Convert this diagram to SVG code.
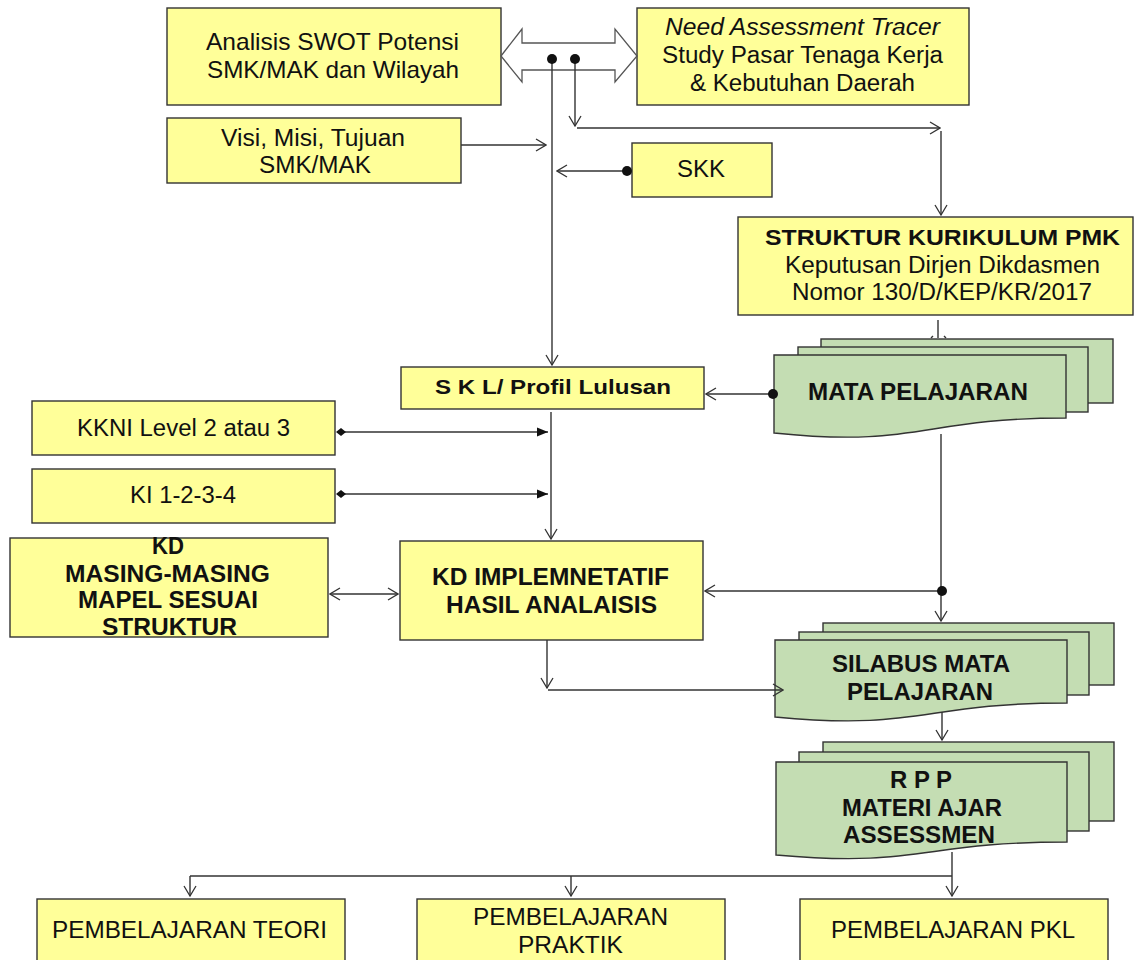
<svg xmlns="http://www.w3.org/2000/svg" width="1135" height="960" viewBox="0 0 1135 960">
<defs>
<style>
.y{fill:#FFFF99;stroke:#333;stroke-width:1.4}
.g{fill:#C4DDB3;stroke:#333;stroke-width:1.4}
.t{font-family:"Liberation Sans",Arial,sans-serif;font-size:23.5px;fill:#111}
.b{font-weight:bold;font-size:23px}
.i{font-style:italic}
.c{fill:none;stroke:#333;stroke-width:1.4}
</style>
<marker id="open" viewBox="0 0 12 14" refX="11" refY="7" markerWidth="12" markerHeight="14" orient="auto-start-reverse" markerUnits="userSpaceOnUse"><path d="M1,1 L11,7 L1,13" fill="none" stroke="#333" stroke-width="1.3"/></marker>
<marker id="tri" viewBox="0 0 12 10" refX="11" refY="5" markerWidth="12" markerHeight="10" orient="auto" markerUnits="userSpaceOnUse"><path d="M0,0.5 L11,5 L0,9.5 Z" fill="#111"/></marker>
<marker id="dia" viewBox="0 0 10 8" refX="1" refY="4" markerWidth="10" markerHeight="8" orient="auto" markerUnits="userSpaceOnUse"><path d="M0,4 L5,0 L10,4 L5,8 Z" fill="#111"/></marker>
<marker id="dot" viewBox="0 0 12 12" refX="6" refY="6" markerWidth="12" markerHeight="12" orient="auto" markerUnits="userSpaceOnUse"><circle cx="6" cy="6" r="5" fill="#111"/></marker>
</defs>
<rect width="1135" height="960" fill="#fff"/>

<g id="swot">
<rect class="y" x="167" y="8" width="334" height="97"/>
<text class="t" x="206" y="50" textLength="253" lengthAdjust="spacingAndGlyphs" style="font-size:24px">Analisis SWOT Potensi</text>
<text class="t" x="207" y="78" textLength="252" lengthAdjust="spacingAndGlyphs" style="font-size:24px">SMK/MAK dan Wilayah</text>
</g>
<g id="need">
<rect class="y" x="637" y="8" width="332" height="97"/>
<text class="t i" x="665" y="35" textLength="275" lengthAdjust="spacingAndGlyphs">Need Assessment Tracer</text>
<text class="t" x="662" y="63" textLength="281" lengthAdjust="spacingAndGlyphs">Study Pasar Tenaga Kerja</text>
<text class="t" x="690" y="91" textLength="225" lengthAdjust="spacingAndGlyphs">&amp; Kebutuhan Daerah</text>
</g>
<g id="visi">
<rect class="y" x="167" y="118" width="294" height="65"/>
<text class="t" x="221" y="146" textLength="184" lengthAdjust="spacingAndGlyphs">Visi, Misi, Tujuan</text>
<text class="t" x="259" y="173" textLength="112" lengthAdjust="spacingAndGlyphs">SMK/MAK</text>
</g>
<g id="skk">
<rect class="y" x="632" y="143" width="140" height="54"/>
<text class="t" x="677" y="177" textLength="48" lengthAdjust="spacingAndGlyphs">SKK</text>
</g>
<g id="struktur">
<rect class="y" x="738" y="217" width="395" height="98"/>
<text class="t b" x="765" y="245" textLength="355" lengthAdjust="spacingAndGlyphs" style="font-size:22px">STRUKTUR KURIKULUM  PMK</text>
<text class="t" x="785" y="273" textLength="315" lengthAdjust="spacingAndGlyphs">Keputusan Dirjen Dikdasmen</text>
<text class="t" x="792" y="300" textLength="300" lengthAdjust="spacingAndGlyphs">Nomor 130/D/KEP/KR/2017</text>
</g>
<g id="mapel">
<rect class="g" x="821" y="339" width="292" height="64"/>
<rect class="g" x="798" y="347" width="290" height="65"/>
<path class="g" d="M774,355 H1066 V418 C920,418 920,448 774,433 Z"/>
<text class="t b" x="808" y="400" textLength="220" lengthAdjust="spacingAndGlyphs">MATA PELAJARAN</text>
</g>
<g id="skl">
<rect class="y" x="401" y="367" width="303" height="42"/>
<text class="t b" x="435" y="394" textLength="236" lengthAdjust="spacingAndGlyphs" style="font-size:21px">S K L/ Profil Lulusan</text>
</g>
<g id="kkni">
<rect class="y" x="32" y="401" width="303" height="54"/>
<text class="t" x="77" y="436" textLength="213" lengthAdjust="spacingAndGlyphs">KKNI Level 2 atau 3</text>
</g>
<g id="ki">
<rect class="y" x="32" y="469" width="303" height="54"/>
<text class="t" x="130" y="503" textLength="106" lengthAdjust="spacingAndGlyphs">KI 1-2-3-4</text>
</g>
<g id="kdmasing">
<rect class="y" x="10" y="538" width="318" height="99"/>
<text class="t b" x="152" y="554" textLength="32" lengthAdjust="spacingAndGlyphs">KD</text>
<text class="t b" x="65" y="582" textLength="205" lengthAdjust="spacingAndGlyphs">MASING-MASING</text>
<text class="t b" x="78" y="608" textLength="180" lengthAdjust="spacingAndGlyphs">MAPEL SESUAI</text>
<text class="t b" x="102" y="635" textLength="135" lengthAdjust="spacingAndGlyphs">STRUKTUR</text>
</g>
<g id="kdimpl">
<rect class="y" x="400" y="541" width="303" height="99"/>
<text class="t b" x="432" y="585" textLength="237" lengthAdjust="spacingAndGlyphs">KD IMPLEMNETATIF</text>
<text class="t b" x="446" y="613" textLength="211" lengthAdjust="spacingAndGlyphs">HASIL ANALAISIS</text>
</g>
<g id="silabus">
<rect class="g" x="823" y="623" width="291" height="62"/>
<rect class="g" x="799" y="632" width="290" height="63"/>
<path class="g" d="M775,640 H1067 V703 C921,703 921,731 775,717 Z"/>
<text class="t b" x="832" y="672" textLength="178" lengthAdjust="spacingAndGlyphs">SILABUS MATA</text>
<text class="t b" x="847" y="700" textLength="146" lengthAdjust="spacingAndGlyphs">PELAJARAN</text>
</g>
<g id="rpp">
<rect class="g" x="823" y="742" width="291" height="79"/>
<rect class="g" x="799" y="752" width="290" height="79"/>
<path class="g" d="M776,762 H1067 V842 C921,842 921,868 776,855 Z"/>
<text class="t b" x="890" y="788" textLength="62" lengthAdjust="spacingAndGlyphs">R P P</text>
<text class="t b" x="842" y="816" textLength="160" lengthAdjust="spacingAndGlyphs">MATERI AJAR</text>
<text class="t b" x="843" y="843" textLength="152" lengthAdjust="spacingAndGlyphs">ASSESSMEN</text>
</g>
<g id="teori">
<rect class="y" x="37" y="899" width="308" height="80"/>
<text class="t" x="52" y="938" textLength="275" lengthAdjust="spacingAndGlyphs">PEMBELAJARAN TEORI</text>
</g>
<g id="praktik">
<rect class="y" x="417" y="899" width="308" height="80"/>
<text class="t" x="473" y="925" textLength="195" lengthAdjust="spacingAndGlyphs">PEMBELAJARAN</text>
<text class="t" x="518" y="953" textLength="105" lengthAdjust="spacingAndGlyphs">PRAKTIK</text>
</g>
<g id="pkl">
<rect class="y" x="800" y="899" width="308" height="80"/>
<text class="t" x="831" y="938" textLength="244" lengthAdjust="spacingAndGlyphs">PEMBELAJARAN PKL</text>
</g>

<g id="connectors">
<polygon points="501,56 522,29 522,43 615,43 615,29 637,56 615,82 615,70 522,70 522,82" fill="#fff" stroke="#555" stroke-width="1.3"/>
<path class="c" d="M552,59 V365" marker-start="url(#dot)" marker-end="url(#open)"/>
<path class="c" d="M575,59 V126" marker-start="url(#dot)" marker-end="url(#open)"/>
<path class="c" d="M577,128 H940" marker-end="url(#open)"/>
<path class="c" d="M941,131 V215" marker-end="url(#open)"/>
<path class="c" d="M461,145 H546" marker-end="url(#open)"/>
<path class="c" d="M627,171 H557" marker-start="url(#dot)" marker-end="url(#open)"/>
<path class="c" d="M938,320 V338 M931,338 L933,336 M946,338 L944,336"/>
<path class="c" d="M773,394 H706" marker-start="url(#dot)" marker-end="url(#open)"/>
<path class="c" d="M337,432 H548" marker-start="url(#dia)" marker-end="url(#tri)"/>
<path class="c" d="M337,494 H548" marker-start="url(#dia)" marker-end="url(#tri)"/>
<path class="c" d="M551,412 V539" marker-end="url(#open)"/>
<path class="c" d="M330,594 H398" marker-start="url(#open)" marker-end="url(#open)"/>
<path class="c" d="M941,434 V621" marker-end="url(#open)"/>
<path class="c" d="M942,591 H705" marker-start="url(#dot)" marker-end="url(#open)"/>
<path class="c" d="M547,640 V688" marker-end="url(#open)"/>
<path class="c" d="M548,690 H783" marker-end="url(#open)"/>
<path class="c" d="M942,712 V740" marker-end="url(#open)"/>
<path class="c" d="M952,852 V896" marker-end="url(#open)"/>
<path class="c" d="M190,876 H952"/>
<path class="c" d="M190,876 V896" marker-end="url(#open)"/>
<path class="c" d="M571,876 V896" marker-end="url(#open)"/>
</g>
</svg>
